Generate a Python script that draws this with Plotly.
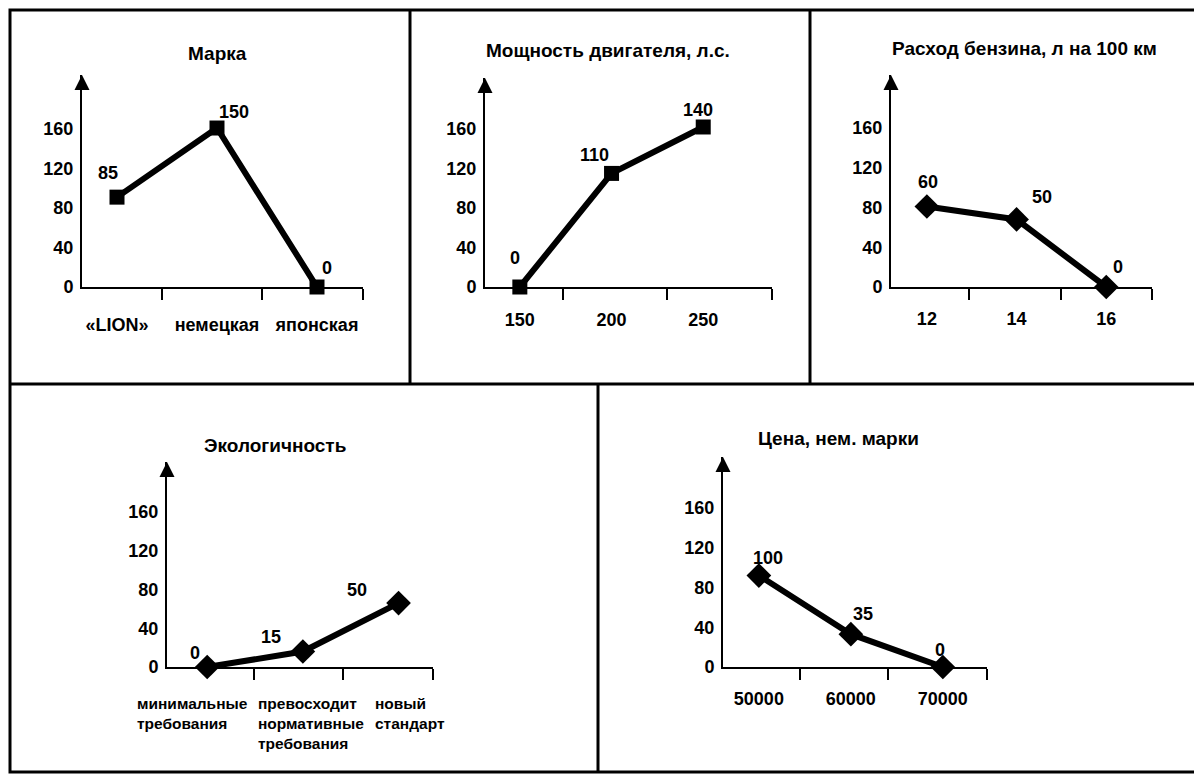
import plotly.graph_objects as go

# ---------------- data ----------------
y_ticks = [0, 40, 80, 120, 160]

brand_categories = ["«LION»", "немецкая", "японская"]
brand_values = [91, 161, 0]
brand_labels = ["85", "150", "0"]

power_categories = ["150", "200", "250"]
power_values = [0, 115, 162]
power_labels = ["0", "110", "140"]

fuel_categories = ["12", "14", "16"]
fuel_values = [81, 68, 0]
fuel_labels = ["60", "50", "0"]

eco_categories = ["минимальные<br>требования",
                  "превосходит<br>нормативные<br>требования",
                  "новый<br>стандарт"]
eco_values = [0, 16, 66]
eco_labels = ["0", "15", "50"]

price_categories = ["50000", "60000", "70000"]
price_values = [92, 33, 0]
price_labels = ["100", "35", "0"]

titles = ["Марка", "Мощность двигателя, л.с.", "Расход бензина, л на 100 км",
          "Экологичность", "Цена, нем. марки"]

# ---------------- layout helpers ----------------
W, H = 1202, 775
OFF = 8  # page body margin
def fx(p): return (p - OFF) / W
def fy(p): return 1 - (p - OFF) / H

FONT = "Liberation Sans, Arial, sans-serif"

panels = [
    dict(cats=brand_categories, vals=brand_values, labels=brand_labels, symbol="square", msize=15,
         xdom=(82, 363), ydom=(287, 75), xr=(-0.35, 2.46), ticks=[0.45, 1.45, 2.455], yr=(0, 214.7),
         offs=[(-9, 24), (17, 16), (10, 19)], tpos=(217, 53), catsize=18, standoff=20),
    dict(cats=power_categories, vals=power_values, labels=power_labels, symbol="square", msize=15,
         xdom=(485, 772), ydom=(287, 78), xr=(-0.38, 2.75), ticks=[0.47, 1.6, 2.745], yr=(0, 211.6),
         offs=[(-5, 29), (-17, 18), (-5, 17)], tpos=(608, 50), catsize=18, standoff=15),
    dict(cats=fuel_categories, vals=fuel_values, labels=fuel_labels, symbol="diamond", msize=19,
         xdom=(891, 1152), ydom=(287, 75), xr=(-0.40, 2.51), ticks=[0.47, 1.49, 2.505], yr=(0, 213.3),
         offs=[(1, 24), (25, 22), (12, 20)], tpos=(1024, 48), catsize=18, standoff=14),
    dict(cats=eco_categories, vals=eco_values, labels=eco_labels, symbol="diamond", msize=19,
         xdom=(167, 433), ydom=(667, 462), xr=(-0.42, 2.36), ticks=[0.49, 1.42, 2.355], yr=(0, 211.6),
         offs=[(-12, 14), (-32, 15), (-42, 13)], tpos=(275, 445), catsize=15.5, standoff=24,
         catshift=[-72, -47, -26]),
    dict(cats=price_categories, vals=price_values, labels=price_labels, symbol="diamond", msize=19,
         xdom=(723, 987), ydom=(667, 457), xr=(-0.39, 2.48), ticks=[0.45, 1.40, 2.475], yr=(0, 211.3),
         offs=[(9, 18), (12, 20), (-3, 17)], tpos=(838, 438), catsize=18, standoff=14),
]

def sid(n):
    return "" if n == 1 else str(n)

fig = go.Figure()
layout = dict(
    width=W, height=H, autosize=False, margin=dict(l=0, r=0, t=0, b=0, pad=0),
    paper_bgcolor="white", plot_bgcolor="rgba(0,0,0,0)", showlegend=False,
    font=dict(family=FONT, color="black", size=18),
)
annotations = []

for i, p in enumerate(panels, start=1):
    xs = list(range(len(p["cats"])))
    xn, yn = "x" + sid(i), "y" + sid(i)
    fig.add_trace(go.Scatter(
        x=xs, y=p["vals"], mode="lines+markers",
        line=dict(color="black", width=6),
        marker=dict(symbol=p["symbol"], size=p["msize"], color="black"),
        cliponaxis=False, xaxis=xn, yaxis=yn, hoverinfo="skip",
    ))
    use_ticklabels = "catshift" not in p
    layout["xaxis" + sid(i)] = dict(
        domain=[fx(p["xdom"][0]), fx(p["xdom"][1])], range=list(p["xr"]), anchor=yn,
        showline=True, linecolor="black", linewidth=2, showgrid=False, zeroline=False,
        tickmode="array", tickvals=xs, ticktext=p["cats"], ticks="", tickangle=0,
        showticklabels=use_ticklabels,
        tickfont=dict(family=FONT, size=p["catsize"], color="black", weight="bold"),
        ticklabelstandoff=p["standoff"], automargin=False,
        minor=dict(tickmode="array", tickvals=p["ticks"], ticks="outside", ticklen=11,
                   tickwidth=2, tickcolor="black", showgrid=False),
        fixedrange=True,
    )
    layout["xaxis" + str(i + 5)] = dict(
        overlaying=xn, anchor=yn, range=list(p["xr"]),
        showline=False, showgrid=False, zeroline=False, automargin=False,
        tickmode="array", tickvals=p["ticks"], ticks="inside", ticklen=11,
        tickwidth=2, tickcolor="black", showticklabels=False, fixedrange=True,
    )
    layout["yaxis" + sid(i)] = dict(
        domain=[fy(p["ydom"][0]), fy(p["ydom"][1])], range=list(p["yr"]), anchor=xn,
        showline=True, linecolor="black", linewidth=2, showgrid=False, zeroline=False,
        tickmode="array", tickvals=y_ticks, ticks="", automargin=False,
        tickfont=dict(family=FONT, size=18, color="black", weight="bold"),
        ticklabelstandoff=3, fixedrange=True,
    )
    if not use_ticklabels:
        # left-aligned multi-line category labels below the axis
        for xv, cat, sh in zip(xs, p["cats"], p["catshift"]):
            annotations.append(dict(
                xref=xn, yref=yn, x=xv, y=0, text=cat, showarrow=False,
                xanchor="left", yanchor="top", align="left", xshift=sh, yshift=-26,
                font=dict(family=FONT, size=p["catsize"], color="black", weight="bold"),
            ))
    annotations.append(dict(
        xref=xn + " domain", yref=yn + " domain", x=0, y=1, ax=0, ay=16,
        text="", showarrow=True, arrowhead=2, arrowsize=1.5, arrowwidth=2, arrowcolor="black",
    ))
    for xv, yv, lab, (dx, dy) in zip(xs, p["vals"], p["labels"], p["offs"]):
        annotations.append(dict(
            xref=xn, yref=yn, x=xv, y=yv, text=lab, showarrow=False,
            xshift=dx, yshift=dy,
            font=dict(family=FONT, size=18, color="black", weight="bold"),
        ))
    annotations.append(dict(
        xref="paper", yref="paper", x=fx(p["tpos"][0]), y=fy(p["tpos"][1]),
        text=titles[i - 1], showarrow=False, xanchor="center", yanchor="middle",
        font=dict(family=FONT, size=19, color="black", weight="bold"),
    ))

layout["annotations"] = annotations

lw = 3
shapes = [
    dict(type="rect", xref="paper", yref="paper", x0=fx(10), x1=fx(1198), y0=fy(772), y1=fy(10),
         line=dict(color="black", width=lw)),
    dict(type="line", xref="paper", yref="paper", x0=fx(10), x1=fx(1198), y0=fy(384), y1=fy(384),
         line=dict(color="black", width=lw)),
    dict(type="line", xref="paper", yref="paper", x0=fx(410), x1=fx(410), y0=fy(10), y1=fy(384),
         line=dict(color="black", width=lw)),
    dict(type="line", xref="paper", yref="paper", x0=fx(810), x1=fx(810), y0=fy(10), y1=fy(384),
         line=dict(color="black", width=lw)),
    dict(type="line", xref="paper", yref="paper", x0=fx(598), x1=fx(598), y0=fy(384), y1=fy(772),
         line=dict(color="black", width=lw)),
]
layout["shapes"] = shapes

fig.update_layout(**layout)
fig.write_html("out.html")
